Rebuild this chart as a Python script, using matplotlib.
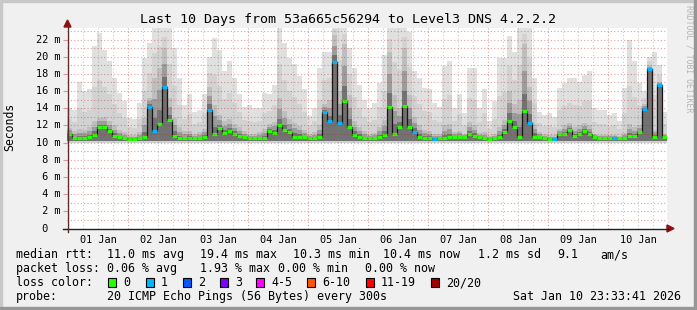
import numpy as np
import matplotlib
matplotlib.use("Agg")
import matplotlib.pyplot as plt
from matplotlib.patches import Rectangle, Polygon
from matplotlib.lines import Line2D
from matplotlib.transforms import blended_transform_factory
from datetime import datetime

W, H = 697, 310

# 2 hour bins, 2025-12-31 23:33:41 .. 2026-01-10 23:33:41, values in ms
median_ms = [
    11.0, 10.5, 10.5, 10.5, 10.6, 10.9, 11.8, 11.8, 11.3, 10.8, 10.6, 10.5,
    10.4, 10.4, 10.5, 10.7, 14.2, 11.3, 12.2, 16.5, 12.6, 10.8, 10.5, 10.5,
    10.5, 10.5, 10.5, 10.6, 13.8, 11.0, 11.7, 11.1, 11.3, 11.0, 10.8, 10.6,
    10.5, 10.5, 10.5, 10.5, 11.3, 11.1, 12.0, 11.5, 11.2, 10.7, 10.7, 10.6,
    10.5, 10.5, 10.6, 13.6, 12.5, 19.4, 12.3, 14.9, 11.85, 10.9, 10.7, 10.5,
    10.5, 10.5, 10.6, 10.9, 14.2, 11.0, 11.8, 14.3, 11.85, 11.2, 10.6, 10.5,
    10.5, 10.4, 10.5, 10.5, 10.6, 10.6, 10.6, 10.6, 11.0, 10.8, 10.6, 10.5,
    10.4, 10.5, 10.6, 11.2, 12.55, 11.8, 10.7, 13.7, 12.3, 10.7, 10.6, 10.5,
    10.4, 10.4, 11.0, 11.0, 11.5, 10.8, 11.0, 11.3, 11.0, 10.6, 10.5, 10.5,
    10.5, 10.5, 10.5, 10.5, 10.8, 10.8, 11.2, 13.9, 18.6, 10.7, 16.7, 10.7,
]
upper_ms = [
    11.7, 11.3, 11.6, 11.5, 11.8, 12.5, 12.9, 13.0, 12.5, 12.0, 11.5, 11.2,
    10.9, 10.9, 11.2, 12.9, 15.2, 17.5, 18.7, 21.0, 15.2, 12.9, 11.8, 11.3,
    11.4, 11.0, 11.2, 11.6, 16.5, 14.4, 13.2, 12.5, 12.8, 12.2, 11.8, 11.3,
    11.0, 11.0, 11.2, 11.6, 12.2, 12.4, 15.2, 13.7, 12.8, 12.3, 11.9, 11.5,
    11.0, 11.2, 12.0, 14.5, 15.0, 22.5, 16.0, 21.5, 15.5, 12.5, 11.8, 11.3,
    11.0, 11.1, 11.8, 12.6, 20.5, 15.5, 14.0, 21.0, 15.5, 13.0, 12.0, 11.5,
    11.4, 11.0, 11.0, 12.0, 12.2, 11.2, 11.4, 11.0, 12.4, 12.0, 11.1, 11.2,
    10.8, 11.0, 11.8, 12.6, 16.0, 14.5, 15.0, 21.5, 16.5, 12.2, 11.2, 11.0,
    10.9, 10.9, 11.6, 12.0, 12.3, 11.8, 12.0, 12.3, 12.0, 11.0, 10.9, 10.9,
    10.9, 10.9, 10.8, 11.1, 12.2, 11.8, 12.0, 14.5, 19.0, 11.5, 17.0, 11.0,
]
max_ms = [
    14.0, 13.8, 17.0, 16.0, 16.2, 21.2, 22.7, 20.8, 19.5, 17.5, 15.8, 14.8,
    12.9, 12.7, 14.6, 19.9, 21.6, 24.0, 24.0, 24.0, 24.0, 21.0, 17.5, 14.4,
    15.6, 13.6, 13.8, 15.6, 20.0, 22.2, 20.8, 18.3, 19.5, 17.5, 15.6, 14.2,
    14.4, 14.0, 14.0, 15.8, 15.6, 16.7, 24.0, 21.6, 19.8, 19.1, 17.7, 16.2,
    13.1, 14.0, 18.7, 20.6, 20.6, 24.0, 24.0, 24.0, 21.0, 18.7, 16.7, 15.0,
    14.0, 14.6, 16.9, 20.2, 24.0, 24.0, 24.0, 24.0, 22.9, 18.3, 17.5, 16.4,
    16.2, 14.6, 14.2, 18.9, 19.5, 14.0, 15.6, 13.4, 18.7, 18.7, 14.0, 16.2,
    12.5, 14.8, 19.9, 19.9, 22.4, 20.6, 24.0, 24.0, 24.0, 17.5, 13.6, 13.2,
    13.4, 13.0, 16.4, 16.9, 17.5, 17.5, 17.1, 17.9, 18.3, 14.0, 13.8, 13.8,
    13.2, 13.4, 12.5, 16.4, 22.0, 19.5, 16.9, 16.0, 20.0, 20.6, 19.0, 13.6,
]
# lost pings (of 20) per bin
loss = [
    0, 0, 0, 0, 0, 0, 0, 0, 0, 0, 0, 0,
    0, 0, 0, 0, 1, 1, 0, 1, 0, 0, 0, 0,
    0, 0, 0, 0, 1, 0, 0, 0, 0, 0, 0, 0,
    0, 0, 0, 0, 0, 0, 0, 0, 0, 0, 0, 0,
    0, 0, 0, 1, 1, 1, 1, 0, 0, 0, 0, 0,
    0, 0, 0, 0, 0, 0, 0, 0, 0, 1, 0, 0,
    0, 1, 0, 0, 0, 0, 0, 0, 0, 0, 0, 0,
    0, 0, 0, 0, 0, 0, 0, 0, 1, 0, 0, 0,
    0, 1, 0, 0, 0, 0, 0, 0, 0, 0, 0, 0,
    0, 1, 0, 0, 0, 0, 0, 1, 1, 0, 1, 0,
]
smoke_floor = 10.0
smoke_low = 10.2

day_labels = ["01 Jan", "02 Jan", "03 Jan", "04 Jan", "05 Jan",
              "06 Jan", "07 Jan", "08 Jan", "09 Jan", "10 Jan"]
y_ticks = [0, 2, 4, 6, 8, 10, 12, 14, 16, 18, 20, 22]
loss_names = ["0", "1", "2", "3", "4-5", "6-10", "11-19", "20/20"]
loss_colors = ["#26ff00", "#00b8ff", "#0059ff", "#7e00ff",
               "#ff00ff", "#ff5500", "#ff0000", "#a10000"]

t_start = datetime(2025, 12, 31, 23, 33, 41)
mono = "DejaVu Sans Mono"
GRID = (0x8c / 255, 0x8c / 255, 0x8c / 255, 0.45)
MGRID = (0xc0 / 255, 0x20 / 255, 0x20 / 255, 0.42)


def fx(px):
    return px / W


def fy(py):
    return 1 - py / H


def step(v):
    return np.append(v, v[-1])


fig = plt.figure(figsize=(W / 100, H / 100), dpi=100, facecolor="#f0f0f0")
ax = fig.add_axes([fx(67), fy(228.5), 600 / W, 200.5 / H])
ax.set_facecolor("white")
ax.set_xlim(0, 240)
ax.set_ylim(0, 23.34)

edges = np.arange(len(median_ms) + 1) * 2.0
med = np.array(median_ms)
up = np.array(upper_ms)
mx = np.array(max_ms)

# smoke, light to dark
ax.fill_between(edges, smoke_floor, step(mx), step="post", color="#e0e0e0", lw=0)
ax.fill_between(edges, smoke_floor, step(up + (mx - up) * 0.45), step="post",
                color="#d2d2d2", lw=0)
ax.fill_between(edges, smoke_low, step(up), step="post", color="#bebebe", lw=0)
ax.fill_between(edges, smoke_low, step(med + (up - med) * 0.6), step="post",
                color="#9c9c9c", lw=0)
ax.fill_between(edges, smoke_low, step(med + (up - med) * 0.25), step="post",
                color="#727272", lw=0)

# median
ax.step(edges, step(med), where="post", color="#151515", lw=0.9, zorder=3)
ax.hlines(med, edges[:-1], edges[1:], colors=[loss_colors[l] for l in loss],
          lw=2.3, zorder=4)

# grid
midnights = [(datetime(2026, 1, d) - t_start).total_seconds() / 3600
             for d in range(1, 11)]
dash = (0, (1, 2))
for m in midnights:
    ax.axvline(m, color=MGRID, lw=0.8, ls=dash, zorder=5)
    for k in (6, 12, 18):
        if m + k < 240:
            ax.axvline(m + k, color=GRID, lw=0.8, ls=dash, zorder=5)
for v in range(1, 24):
    ax.axhline(v, color=MGRID, lw=0.8, ls=dash, zorder=5)

for s in ax.spines.values():
    s.set_visible(False)

ax.set_yticks(y_ticks)
ax.tick_params(axis="y", length=3, color=MGRID, labelleft=False)
ytrans = blended_transform_factory(fig.transFigure, ax.transData)
for v in y_ticks:
    lab = " 0" if v == 0 else "%2d m" % v
    ax.text(fx(36), v, lab, transform=ytrans, ha="left", va="center",
            family=mono, fontsize=7.4)

ax.set_xticks([m + 12 for m in midnights])
ax.set_xticklabels(day_labels, family=mono, fontsize=7.4)
ax.tick_params(axis="x", length=0, pad=4.5)

# axes lines and arrows
fig.add_artist(Line2D([fx(63), fx(669)], [fy(228.5), fy(228.5)], color="#202020", lw=1))
fig.add_artist(Line2D([fx(67.5), fx(67.5)], [fy(232), fy(26)], color="#5a2a2a", lw=1))
fig.add_artist(Polygon([[fx(667), fy(225)], [fx(667), fy(232)], [fx(674), fy(228.5)]],
                       closed=True, color="#901010", transform=fig.transFigure))
fig.add_artist(Polygon([[fx(64), fy(27)], [fx(71), fy(27)], [fx(67.5), fy(20)]],
                       closed=True, color="#901010", transform=fig.transFigure))

# texts
fig.text(fx(348), fy(23), "Last 10 Days from 53a665c56294 to Level3 DNS 4.2.2.2",
         ha="center", va="baseline", family=mono, fontsize=9.6)
fig.text(fx(10), fy(127), "Seconds", rotation=90, ha="center", va="center",
         family=mono, fontsize=8.3)
fig.text(fx(689), fy(5), "RRDTOOL / TOBI OETIKER", rotation=-90, ha="center",
         va="top", family=mono, fontsize=5.9, color="#b4b4b4")

lf = dict(family=mono, fontsize=8.4, va="baseline", ha="left")
rows = [
    (258, [(16, "median rtt:"), (107, "11.0 ms avg"), (200, "19.4 ms max"),
           (293, "10.3 ms min"), (383, "10.4 ms now"), (478, "1.2 ms sd"),
           (557, "9.1"), (600, "am/s")]),
    (272, [(16, "packet loss:"), (107, "0.06 % avg"), (200, "1.93 % max"),
           (278, "0.00 % min"), (365, "0.00 % now")]),
    (286, [(16, "loss color:")]),
    (300, [(16, "probe:"), (107, "20 ICMP Echo Pings (56 Bytes) every 300s"),
           (513, "Sat Jan 10 23:33:41 2026")]),
]
for yb, items in rows:
    for x, s in items:
        fig.text(fx(x), fy(yb), s, **lf)

box_x = [108, 146, 183, 220, 256, 307, 366, 431]
for x, name, c in zip(box_x, loss_names, loss_colors):
    fig.add_artist(Rectangle((fx(x), fy(286.5)), 8 / W, 9 / H, facecolor=c,
                             edgecolor="black", lw=0.8, transform=fig.transFigure))
    fig.text(fx(x + 15), fy(286), name, **lf)

# border shading
fig.add_artist(Rectangle((0, 1 - 2 / H), 1, 2 / H, color="#c8c8c8", transform=fig.transFigure))
fig.add_artist(Rectangle((0, 0), 2 / W, 1, color="#c8c8c8", transform=fig.transFigure))
fig.add_artist(Rectangle((1 - 3 / W, 0), 3 / W, 1, color="#969696", transform=fig.transFigure))
fig.add_artist(Rectangle((0, 0), 1, 3 / H, color="#969696", transform=fig.transFigure))

fig.savefig("out.png", dpi=100, facecolor=fig.get_facecolor())
